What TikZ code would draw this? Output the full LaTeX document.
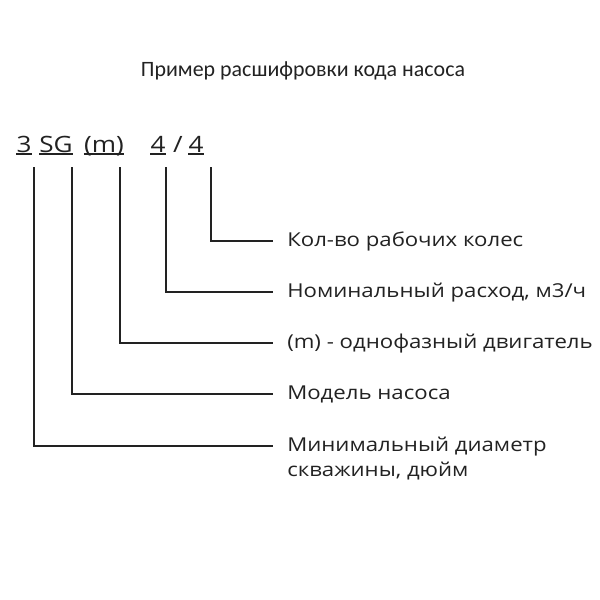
\documentclass[tikz,border=0pt]{standalone}
\usepackage{fontspec}
\setmainfont{Open Sans}
\newfontfamily\widefont[FakeStretch=1.16]{Open Sans}
\newfontfamily\titlefont{Carlito}
\usepackage{tikz}
\usepackage{xcolor}

\definecolor{ink}{HTML}{222222}

\tikzset{
  codechar/.style={anchor=base, inner sep=0pt, text=ink, font=\widefont\fontsize{16}{18}\selectfont},
  decode/.style={anchor=west, inner sep=0pt, text height=2ex, text depth=0.5ex, text=ink, font=\widefont\fontsize{13.6}{16}\selectfont},
  lead/.style={ink, line width=1.3pt, shorten >=10pt},
  uline/.style={ink, line width=1.1pt}
}

\begin{document}
\begin{tikzpicture}[x=0.025cm, y=-0.025cm]
\useasboundingbox[fill=white] (0,0) rectangle (600,600);
\node[anchor=base, inner sep=0pt, text=ink, font=\titlefont\fontsize{15.6}{18}\selectfont] (title) at (303,76) {Пример расшифровки кода насоса};

% pump code
\node[codechar] (c3) at (24,152) {3};
\node[codechar] (csg) at (56,152) {SG};
\node[codechar] (cm) at (104,152) {(m)};
\node[codechar] (cq) at (158,152) {4};
\node[codechar] (cslash) at (178,152) {/};
\node[codechar] (cn) at (196,152) {4};
\foreach \c in {c3,csg,cm,cq,cn}
  \draw[uline] ([shift={(0,1.8)}]\c.base west) -- ([shift={(0,1.8)}]\c.base east);

% meanings
\node[decode] (lkol) at (287,241) {Кол-во рабочих колес};
\node[decode] (lnom) at (287,292) {Номинальный расход, м3/ч};
\node[decode] (lmot) at (287,343) {(m) - однофазный двигатель};
\node[decode] (lmod) at (287,394) {Модель насоса};
\node[decode] (ldia) at (287,446) {Минимальный диаметр};
\node[decode] (ldib) at (287,471) {скважины, дюйм};

\draw[lead] ([shift={(7,15)}]cn.base east) |- (lkol.west);
\draw[lead] ([shift={(0,15)}]cq.base east) |- (lnom.west);
\draw[lead] ([shift={(-4,15)}]cm.base east) |- (lmot.west);
\draw[lead] ([shift={(-1,15)}]csg.base east) |- (lmod.west);
\draw[lead] ([shift={(2,15)}]c3.base east) |- (ldia.west);
\end{tikzpicture}
\end{document}
